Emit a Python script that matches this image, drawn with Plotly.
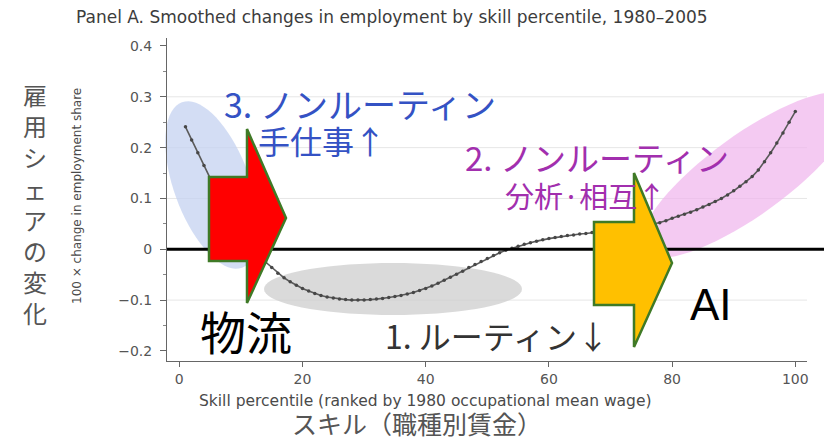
import numpy as np
import plotly.graph_objects as go

# ---------------- data ----------------
percentile = list(range(1, 101))
emp_change = [
    0.241, 0.215, 0.190, 0.165, 0.140, 0.115, 0.090, 0.068, 0.047, 0.028,
    0.012, -0.002, -0.014, -0.025, -0.036, -0.047, -0.056, -0.064, -0.071, -0.077,
    -0.082, -0.087, -0.091, -0.094, -0.096, -0.098, -0.099, -0.100, -0.100, -0.100,
    -0.099, -0.098, -0.097, -0.095, -0.093, -0.091, -0.088, -0.085, -0.081, -0.077,
    -0.072, -0.067, -0.061, -0.055, -0.049, -0.043, -0.036, -0.030, -0.024, -0.018,
    -0.012, -0.007, -0.002, 0.002, 0.006, 0.010, 0.013, 0.016, 0.019, 0.021,
    0.023, 0.025, 0.027, 0.028, 0.030, 0.031, 0.033, 0.034, 0.035, 0.036,
    0.037, 0.038, 0.040, 0.041, 0.043, 0.046, 0.049, 0.052, 0.056, 0.061,
    0.065, 0.069, 0.073, 0.078, 0.083, 0.088, 0.094, 0.100, 0.107, 0.115,
    0.124, 0.133, 0.143, 0.156, 0.172, 0.190, 0.209, 0.229, 0.250, 0.271,
]

x_tick_vals = [0, 20, 40, 60, 80, 100]
y_tick_vals = [-0.2, -0.1, 0, 0.1, 0.2, 0.3, 0.4]
y_tick_text = ["\u22120.2", "\u22120.1", "0", "0.1", "0.2", "0.3", "0.4"]
y_grid_vals = [-0.1, 0.1, 0.2, 0.3]

title_text = "Panel A. Smoothed changes in employment by skill percentile, 1980\u20132005"
x_title_en = "Skill percentile (ranked by 1980 occupational mean wage)"
y_title_en = "100 \u00d7 change in employment share"
x_title_ja = "スキル（職種別賃金）"
y_title_ja = "雇用シェアの変化"
label_routine = "1. ルーティン↓"
label_analytic = "2. ノンルーティン"
label_analytic_sub = "分析·相互↑"
label_manual = "3. ノンルーティン"
label_manual_sub = "手仕事↑"
label_logistics = "物流"
label_ai = "AI"

# ---------------- layout geometry (page pixels) ----------------
W, H = 832, 438
PAGE_OFF = 8                      # default body margin of the html page
P_LEFT, P_RIGHT, P_TOP, P_BOTTOM = 167, 807, 38, 361   # plot box on the page
X_RANGE = [-2.0, 101.9]
Y_RANGE = [-0.2198, 0.4157]
PW, PH = P_RIGHT - P_LEFT, P_BOTTOM - P_TOP
M_L = P_LEFT - PAGE_OFF
M_T = P_TOP - PAGE_OFF
M_R = W - (P_RIGHT - PAGE_OFF)
M_B = H - (P_BOTTOM - PAGE_OFF)


def px(x, y):
    """page pixel position -> paper coordinates"""
    return (x - P_LEFT) / PW, (P_BOTTOM - y) / PH


def path_from_pixels(points):
    pts = [px(x, y) for x, y in points]
    return "M " + " L ".join(f"{a:.5f},{b:.5f}" for a, b in pts) + " Z"


def ellipse_path(cx, cy, a, b, angle_deg, n=72):
    t = np.linspace(0, 2 * np.pi, n, endpoint=False)
    ang = np.deg2rad(angle_deg)
    xs = cx + a * np.cos(t) * np.cos(ang) - b * np.sin(t) * np.sin(ang)
    ys = cy + a * np.cos(t) * np.sin(ang) + b * np.sin(t) * np.cos(ang)
    return path_from_pixels(list(zip(xs, ys)))


fig = go.Figure()
fig.add_trace(go.Scatter(
    x=percentile, y=emp_change, mode="lines+markers",
    line=dict(color="#5a5a5a", width=1.6),
    marker=dict(color="#474747", size=3.5),
    hoverinfo="skip", showlegend=False,
))

shapes = []
# light horizontal grid lines
for gv in y_grid_vals:
    shapes.append(dict(type="line", xref="paper", yref="y", layer="below",
                       x0=0, x1=1, y0=gv, y1=gv,
                       line=dict(color="#e6e6e6", width=1)))
# highlighted regions
shapes.append(dict(type="path", xref="paper", yref="paper", layer="below",
                   path=ellipse_path(212, 185, 88, 38, 70),
                   fillcolor="rgba(196,210,240,0.75)", line=dict(width=0)))
shapes.append(dict(type="path", xref="paper", yref="paper", layer="below",
                   path=ellipse_path(393, 289, 129, 26, 0),
                   fillcolor="rgba(205,205,205,0.75)", line=dict(width=0)))
shapes.append(dict(type="path", xref="paper", yref="paper", layer="below",
                   path=ellipse_path(748, 175, 130, 40, -36),
                   fillcolor="rgba(240,180,236,0.7)", line=dict(width=0)))
# thick zero line extending to the right edge
zero_paper = (0 - Y_RANGE[0]) / (Y_RANGE[1] - Y_RANGE[0])
shapes.append(dict(type="line", xref="paper", yref="paper", layer="above",
                   x0=0, x1=(W - P_LEFT) / PW, y0=zero_paper, y1=zero_paper,
                   line=dict(color="black", width=3)))
# block arrows
red_arrow = [(209, 177), (247, 177), (247, 129), (286, 218), (247, 303), (247, 261), (209, 261)]
orange_arrow = [(594, 222), (634, 222), (634, 173), (672, 263), (634, 347), (634, 305), (594, 305)]
shapes.append(dict(type="path", xref="paper", yref="paper", layer="above",
                   path=path_from_pixels(red_arrow), fillcolor="#ff0000",
                   line=dict(color="#3f7a26", width=2.5)))
shapes.append(dict(type="path", xref="paper", yref="paper", layer="above",
                   path=path_from_pixels(orange_arrow), fillcolor="#ffc000",
                   line=dict(color="#3f7a26", width=2.5)))

annotations = []


def add_text(text, x, y, size, color, family, angle=0):
    ax, ay = px(x, y)
    annotations.append(dict(text=text, x=ax, y=ay, xref="paper", yref="paper",
                            xanchor="center", yanchor="middle", showarrow=False,
                            textangle=angle,
                            font=dict(size=size, color=color, family=family)))


LAT = "DejaVu Sans, Arial, sans-serif"
JP = "Noto Sans CJK JP, sans-serif"
add_text(title_text, 392, 17, 17, "#3c3c3c", LAT)
add_text(x_title_en, 425, 401, 15.5, "#4a4a4a", LAT)
add_text(y_title_en, 77, 196, 12, "#4a4a4a", LAT, angle=-90)
add_text(x_title_ja, 417, 423, 25, "#555555", JP)
add_text("<br>".join(y_title_ja), 35, 203, 24, "#555555", JP)

add_text(label_manual, 360, 103, 34, "#3452c4", JP)
add_text(label_manual_sub, 322, 140, 32, "#3452c4", JP)
add_text(label_analytic, 597, 157, 33, "#a22fae", JP)
add_text(label_analytic_sub, 585, 195, 29, "#a22fae", JP)
add_text(label_routine, 497, 335, 32, "#333333", JP)
add_text(label_logistics, 246, 330, 46, "#000000", JP)
add_text(label_ai, 711, 304, 44, "#000000", "Liberation Sans, Arial, sans-serif")

axis_font = dict(family=LAT, size=14, color="#555555")
fig.update_layout(
    width=W, height=H,
    margin=dict(l=M_L, r=M_R, t=M_T, b=M_B, pad=0),
    paper_bgcolor="white", plot_bgcolor="rgba(0,0,0,0)",
    shapes=shapes, annotations=annotations, showlegend=False,
    xaxis=dict(range=X_RANGE, tickvals=x_tick_vals, showgrid=False, zeroline=False,
               showline=True, linecolor="#666666", linewidth=1,
               ticks="outside", ticklen=5, tickcolor="#666666",
               tickfont=axis_font, fixedrange=True),
    yaxis=dict(range=Y_RANGE, tickvals=y_tick_vals, ticktext=y_tick_text,
               showgrid=False, zeroline=False,
               showline=True, linecolor="#666666", linewidth=1,
               ticks="outside", ticklen=6, tickcolor="#666666",
               ticklabelstandoff=5,
               tickfont=axis_font, fixedrange=True,
               minor=dict(dtick=0.05, ticks="outside", ticklen=3,
                          tickcolor="#888888", showgrid=False)),
)

fig.write_html("out.html")
